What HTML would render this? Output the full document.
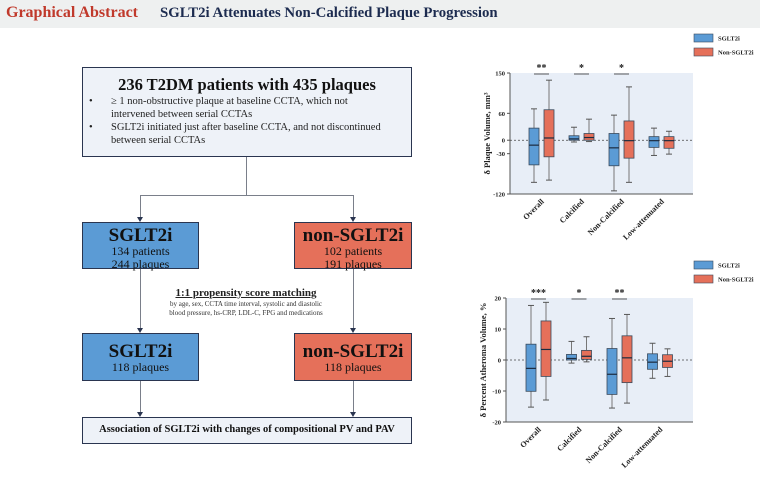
<!DOCTYPE html>
<html><head><meta charset="utf-8"><style>
body{margin:0;width:760px;height:479px;background:#fff;position:relative;overflow:hidden;font-family:"Liberation Serif",serif}
.a{position:absolute;box-sizing:border-box}
.hdr{left:0;top:0;width:760px;height:28px;background:#eef0f0}
.box{border:1.5px solid #2a3550;text-align:center;color:#111}
.blue{background:#5b9bd5}.org{background:#e5705a}
.ln{background:#7a7f8a}
.big{font-weight:bold;font-size:19px;line-height:19px;margin-top:3px}
.sm{font-size:12px;line-height:13px}
.arr{width:0;height:0;border-left:3px solid transparent;border-right:3px solid transparent;border-top:5px solid #2a3550}
</style></head><body>
<div class="a hdr"></div>
<div class="a" style="left:6px;top:4px;font-size:16px;font-weight:bold;color:#c0392b">Graphical Abstract</div>
<div class="a" style="left:160px;top:5px;font-size:14.8px;font-weight:bold;color:#1c2b4f">SGLT2i Attenuates Non-Calcified Plaque Progression</div>

<div class="a box" style="left:82px;top:67px;width:330px;height:90px;background:#eef2f8;text-align:left">
<div style="text-align:center;font-weight:bold;font-size:16.5px;margin-top:7px">236 T2DM patients with 435 plaques</div>
<div style="font-size:10.5px;line-height:13px;padding-left:6px;padding-right:22px;margin-top:0px;color:#222">
<div style="display:flex"><span style="min-width:22px">•</span><span>≥ 1 non-obstructive plaque at baseline CCTA, which not intervened between serial CCTAs</span></div>
<div style="display:flex"><span style="min-width:22px">•</span><span>SGLT2i initiated just after baseline CCTA, and not discontinued between serial CCTAs</span></div></div></div>

<div class="a ln" style="left:246px;top:157px;width:1px;height:38px"></div>
<div class="a ln" style="left:140px;top:195px;width:213px;height:1px"></div>
<div class="a ln" style="left:140px;top:195px;width:1px;height:24px"></div>
<div class="a ln" style="left:353px;top:195px;width:1px;height:24px"></div>
<div class="a arr" style="left:137px;top:217px"></div>
<div class="a arr" style="left:350px;top:217px"></div>

<div class="a box blue" style="left:82px;top:222px;width:117px;height:47px"><div class="big">SGLT2i</div><div class="sm">134 patients<br>244 plaques</div></div>
<div class="a box org" style="left:294px;top:222px;width:118px;height:47px"><div class="big">non-SGLT2i</div><div class="sm">102 patients<br>191 plaques</div></div>

<div class="a ln" style="left:140px;top:269px;width:1px;height:61px"></div>
<div class="a ln" style="left:353px;top:269px;width:1px;height:61px"></div>
<div class="a arr" style="left:137px;top:328px"></div>
<div class="a arr" style="left:350px;top:328px"></div>
<div class="a" style="left:146px;top:287px;width:200px;text-align:center;color:#222"><div style="font-weight:bold;font-size:11px;text-decoration:underline">1:1 propensity score matching</div><div style="font-size:7px;line-height:9px;margin-top:1px;color:#333">by age, sex, CCTA time interval, systolic and diastolic<br>blood pressure, hs-CRP, LDL-C, FPG and medications</div></div>

<div class="a box blue" style="left:82px;top:333px;width:117px;height:48px"><div class="big" style="margin-top:8px">SGLT2i</div><div class="sm">118 plaques</div></div>
<div class="a box org" style="left:294px;top:333px;width:118px;height:48px"><div class="big" style="margin-top:8px">non-SGLT2i</div><div class="sm">118 plaques</div></div>

<div class="a ln" style="left:140px;top:381px;width:1px;height:33px"></div>
<div class="a ln" style="left:353px;top:381px;width:1px;height:33px"></div>
<div class="a arr" style="left:137px;top:412px"></div>
<div class="a arr" style="left:350px;top:412px"></div>
<div class="a box" style="left:82px;top:417px;width:330px;height:27px;background:#eef2f8;font-weight:bold;font-size:10.5px;line-height:24px">Association of SGLT2i with changes of compositional PV and PAV</div>

<svg id="charts" class="a" style="left:0;top:0" width="760" height="479"></svg>
<script>
const categories=["Overall","Calcified","Non-Calcified","Low-attenuated"];
// chart 1: [min,q1,median,q3,max]
const pvSglt=[[-94,-55,-11,27,70],[-4,0,3,10,29],[-113,-57,-17,15,56],[-34,-16,-1,8,27]];
const pvNon=[[-89,-37,5,68,134],[-3,0,6,15,47],[-94,-40,-1,43,119],[-31,-18,-1,8,20]];
const pvTicks=[150,60,0,-30,-120];
const pvStars=["**","*","*",""];
const pavSglt=[[-15.2,-10.1,-2.7,5.1,17.6],[-1,0,0.5,1.8,6],[-15.5,-11.1,-4.6,3.7,13.4],[-5.9,-3,-0.7,2,5.4]];
const pavNon=[[-12.9,-5.3,3.4,12.6,18.6],[-0.6,0.2,1.2,3.1,7.5],[-13.9,-7.3,0.7,7.8,14.7],[-5.3,-2.4,-0.4,1.7,3.6]];
const pavTicks=[20,10,0,-10,-20];
const pavStars=["***","*","**",""];
const NS="http://www.w3.org/2000/svg";
const svg=document.getElementById('charts');
function mk(tag,at,parent){const e=document.createElementNS(NS,tag);for(const k in at)e.setAttribute(k,at[k]);(parent||svg).appendChild(e);return e;}
function chart(o){
  const g=mk('g',{});
  
  
  const y=v=>o.top+(o.ymax-v)/(o.ymax-o.ymin)*(o.bot-o.top);
  const gx=i=>o.x0+o.step*i;
  const bg=mk('rect',{x:o.left,y:o.top,width:o.right-o.left,height:o.bot-o.top,fill:'#e8eef7'},g);
  
  
  mk('line',{x1:o.left,x2:o.left,y1:o.top,y2:o.bot,stroke:'#555','stroke-width':1},g);
  mk('line',{x1:o.left,x2:o.right,y1:o.bot,y2:o.bot,stroke:'#555','stroke-width':1},g);
  mk('line',{x1:o.left,x2:o.right,y1:y(0),y2:y(0),stroke:'#444','stroke-width':0.8,'stroke-dasharray':'2,2'},g);
  o.ticks.forEach(t=>{
    mk('line',{x1:o.left-3,x2:o.left,y1:y(t),y2:y(t),stroke:'#555'},g);
    const tx=mk('text',{x:o.left-5,y:y(t)+2.5,'text-anchor':'end','font-size':6.5,'font-weight':'bold',fill:'#222'},g);
    tx.textContent=t;
    
    
  });
  const yt=mk('text',{transform:`translate(${o.left-20},${(o.top+o.bot)/2}) rotate(-90)`,'text-anchor':'middle','font-size':8.5,'font-weight':'bold',fill:'#222'},g);
  yt.textContent=o.ytitle;
  
  
  [[o.a,'#5b9bd5'],[o.b,'#e5705a']].forEach(([arr,col],si)=>{
    arr.forEach((d,i)=>{
      const cx=gx(i)+(si?7.5:-7.5),w=10;
      const b=mk('g',{},g);
      
      
      mk('line',{x1:cx,x2:cx,y1:y(d[4]),y2:y(d[0]),stroke:'#777','stroke-width':1},b);
      mk('line',{x1:cx-3,x2:cx+3,y1:y(d[4]),y2:y(d[4]),stroke:'#555'},b);
      mk('line',{x1:cx-3,x2:cx+3,y1:y(d[0]),y2:y(d[0]),stroke:'#555'},b);
      mk('rect',{x:cx-w/2,y:y(d[3]),width:w,height:y(d[1])-y(d[3]),fill:col,stroke:'#3a4a5c','stroke-width':0.8},b);
      mk('line',{x1:cx-w/2,x2:cx+w/2,y1:y(d[2]),y2:y(d[2]),stroke:'#1c2b3f','stroke-width':1.2},b);
    });
  });
  categories.forEach((c,i)=>{
    const x=gx(i);
    const t=mk('text',{transform:`translate(${x+3},${o.bot+8}) rotate(-45)`,'text-anchor':'end','font-size':8,'font-weight':'bold',fill:'#222'},g);
    t.textContent=c;
    
    
    if(o.stars[i]){
      mk('line',{x1:x-7.5,x2:x+7.5,y1:o.top+1,y2:o.top+1,stroke:'#333','stroke-width':0.8},g);
      const s=mk('text',{x:x,y:o.top-2,'text-anchor':'middle','font-size':10,'font-weight':'bold',fill:'#222'},g);
      s.textContent=o.stars[i];
      
      
    }
  });
  [['SGLT2i','#5b9bd5'],['Non-SGLT2i','#e5705a']].forEach(([lab,col],k)=>{
    const ly=o.leg+k*14;
    const le=mk('g',{},g);
    
    
    mk('rect',{x:694,y:ly-4,width:19,height:8,fill:col,stroke:'#3a4a5c','stroke-width':0.6},le);
    const t=mk('text',{x:718,y:ly+2.5,'font-size':6.5,'font-weight':'bold',fill:'#222'},le);
    t.textContent=lab;
  });
}
chart({name:'plaque-volume-chart',left:510,right:693,top:73,bot:194,ymax:150,ymin:-120,x0:541.5,step:40,ticks:pvTicks,a:pvSglt,b:pvNon,stars:pvStars,ytitle:'δ Plaque Volume, mm³',leg:38});
chart({name:'percent-atheroma-volume-chart',left:506,right:693,top:298,bot:422,ymax:20,ymin:-20,x0:538.5,step:40.5,ticks:pavTicks,a:pavSglt,b:pavNon,stars:pavStars,ytitle:'δ Percent Atheroma Volume, %',leg:265});
</script>
</body></html>
